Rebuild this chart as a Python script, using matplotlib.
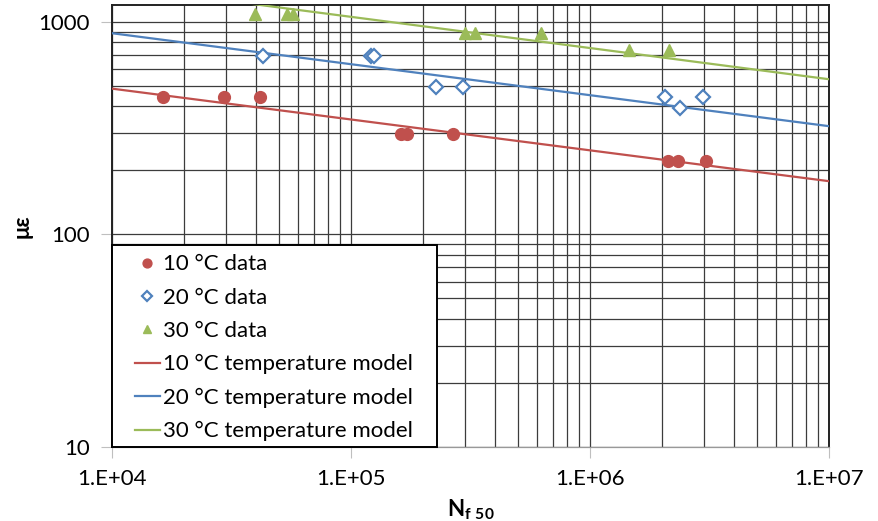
import numpy as np
import matplotlib
matplotlib.use("Agg")
import matplotlib.pyplot as plt
from matplotlib.patches import Rectangle
from matplotlib.ticker import FixedLocator, FuncFormatter, NullFormatter, LogLocator

plt.rcParams["font.family"] = ["Lato", "DejaVu Sans"]
plt.rcParams["mathtext.fontset"] = "custom"
plt.rcParams["mathtext.rm"] = "Lato"
plt.rcParams["mathtext.bf"] = "Lato:bold"

# 10 °C data
n_10 = [16400, 29400, 41600, 162000, 171000, 267000, 2.12e6, 2.33e6, 3.06e6]
e_10 = [445, 445, 445, 297, 297, 297, 222, 222, 222]
# 20 °C data
n_20 = [42700, 121000, 125000, 226000, 295000, 2.06e6, 2.38e6, 2.98e6]
e_20 = [690, 690, 690, 493, 493, 445, 395, 445]
# 30 °C data
n_30 = [39700, 54000, 57000, 300000, 330000, 622000, 1.45e6, 2.15e6]
e_30 = [1090, 1090, 1090, 885, 885, 885, 735, 735]

# temperature model lines, read at the plot edges
model_n = [1e4, 1e7]
model_10 = [485, 178]
model_20 = [884, 323]
model_30 = [1480, 537]

red = "#C0504D"
blue = "#4F81BD"
green = "#9BBB59"

fig = plt.figure(figsize=(8.79, 5.21), dpi=100)
ax = fig.add_axes([112 / 879, 1 - 447 / 521, (829 - 112) / 879, (447 - 5) / 521])

ax.set_xscale("log")
ax.set_yscale("log")
ax.set_xlim(1e4, 1e7)
ax.set_ylim(10, 1200)

ax.plot(n_10, e_10, "o", color=red, ms=8.5, ls="none", label="10 °C data", zorder=4)
ax.plot(n_20, e_20, "D", mfc="white", mec=blue, mew=1.6, ms=7, ls="none",
        label="20 °C data", zorder=4)
ax.plot(n_30, e_30, "^", color=green, ms=8.5, ls="none", label="30 °C data", zorder=4)
ax.plot(model_n, model_10, color=red, lw=1.6, label="10 °C temperature model", zorder=3)
ax.plot(model_n, model_20, color=blue, lw=1.6, label="20 °C temperature model", zorder=3)
ax.plot(model_n, model_30, color=green, lw=1.6, label="30 °C temperature model", zorder=3)

ax.xaxis.set_major_locator(FixedLocator([1e4, 1e5, 1e6, 1e7]))
ax.xaxis.set_minor_locator(LogLocator(base=10, subs=np.arange(2, 10)))
ax.xaxis.set_major_formatter(FuncFormatter(lambda v, p: "1.E+%02d" % round(np.log10(v))))
ax.xaxis.set_minor_formatter(NullFormatter())
ax.yaxis.set_major_locator(FixedLocator([10, 100, 1000]))
ax.yaxis.set_minor_locator(LogLocator(base=10, subs=np.arange(2, 10)))
ax.yaxis.set_major_formatter(FuncFormatter(lambda v, p: "%d" % round(v)))
ax.yaxis.set_minor_formatter(NullFormatter())

ax.grid(True, which="both", color="#3c3c3c", lw=0.9)
ax.set_axisbelow(True)
ax.tick_params(which="major", direction="out", length=8, color="#bfbfbf",
               labelsize=16, pad=8)
ax.tick_params(which="minor", length=0)
for s in ax.spines.values():
    s.set_color("#222222")
    s.set_linewidth(1.4)
ax.spines["bottom"].set_color("#999999")
ax.spines["bottom"].set_linewidth(0.9)

ax.set_ylabel("με", fontsize=16, fontweight="bold", labelpad=4)
ax.set_xlabel(r"$\mathbf{N}_{\mathbf{f\ 50}}$", fontsize=16, labelpad=6)

# legend box drawn separately so the padding can match
box = Rectangle((0, 0), 0.453, 0.457, transform=ax.transAxes, facecolor="white",
                edgecolor="black", lw=1.4, zorder=5, clip_on=False)
ax.add_patch(box)
leg = ax.legend(loc="upper left", bbox_to_anchor=(0.032, 0.436), borderaxespad=0,
                borderpad=0, fontsize=16, frameon=False, handlelength=1.13,
                handletextpad=0.15, labelspacing=0.6, markerscale=0.75)
leg.set_zorder(6)

fig.savefig("out.png", dpi=100)
